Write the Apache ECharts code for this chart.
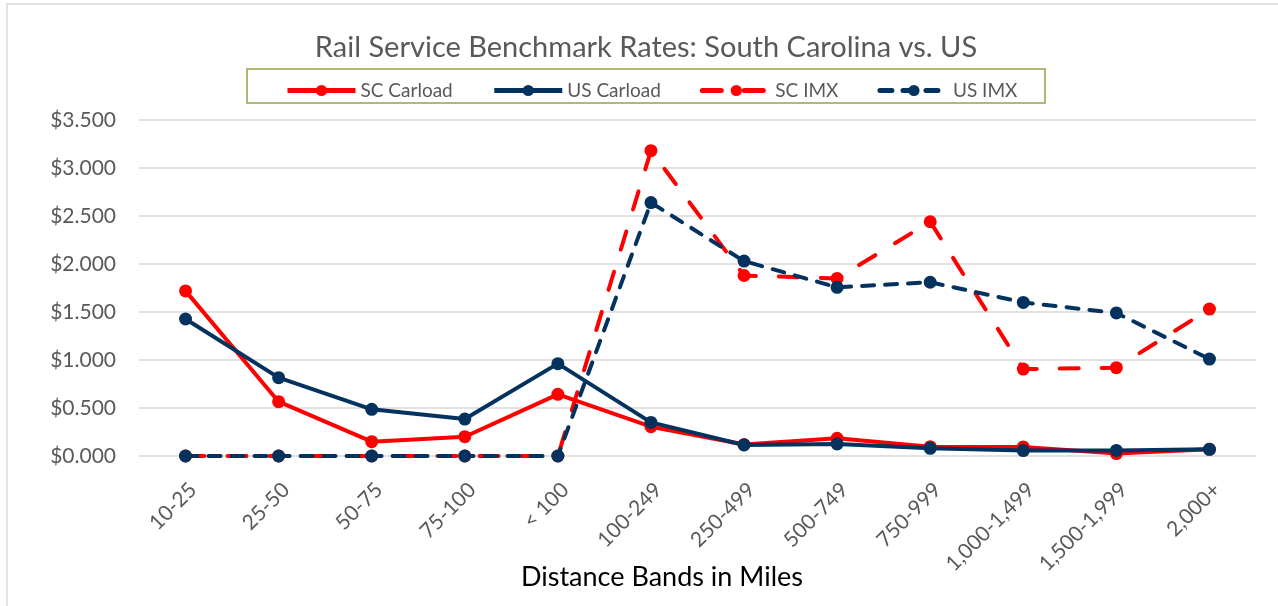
<!DOCTYPE html>
<html>
<head>
<meta charset="utf-8">
<script src="https://cdn.jsdelivr.net/npm/echarts@6/dist/echarts.min.js"></script>
<style>
  html, body { margin: 0; padding: 0; background: #fff; }
  #chart { width: 1278px; height: 606px; }
</style>
</head>
<body>
<div id="chart"></div>
<script>
const categories = ['10-25', '25-50', '50-75', '75-100', '< 100', '100-249', '250-499', '500-749', '750-999', '1,000-1,499', '1,500-1,999', '2,000+'];
const scCarload = [1.72, 0.566, 0.149, 0.201, 0.642, 0.305, 0.12, 0.184, 0.097, 0.095, 0.025, 0.07];
const usCarload = [1.427, 0.816, 0.486, 0.385, 0.962, 0.35, 0.115, 0.125, 0.08, 0.056, 0.058, 0.07];
const scIMX = [0, 0, 0, 0, 0, 3.18, 1.88, 1.85, 2.44, 0.905, 0.92, 1.53];
const usIMX = [0, 0, 0, 0, 0, 2.64, 2.03, 1.757, 1.81, 1.60, 1.49, 1.01];
const seriesNames = ['SC Carload', 'US Carload', 'SC IMX', 'US IMX'];
const yTicks = { min: 0, max: 3.5, interval: 0.5 };
const xAxisTitle = 'Distance Bands in Miles';

const RED = '#FF0000';
const NAVY = '#03325F';
const FONT = 'Lato';

const chart = echarts.init(document.getElementById('chart'));

function mk(name, data, color, dash) {
  return {
    name: name,
    type: 'line',
    data: data,
    symbol: 'circle',
    symbolSize: 13,
    showSymbol: true,
    animation: false,
    itemStyle: { color: color },
    lineStyle: { color: color, width: 4, type: dash || 'solid', cap: dash ? 'round' : 'butt' }
  };
}

chart.setOption({
  backgroundColor: '#fff',
  animation: false,
  title: {
    text: 'Rail Service Benchmark Rates: South Carolina vs. US',
    left: 641, top: 28, textAlign: 'center',
    textStyle: { fontFamily: FONT, fontSize: 29, fontWeight: 'normal', color: '#595959' }
  },
  graphic: [
    { type: 'rect', shape: { x: 7, y: 4, width: 1400, height: 800 }, style: { fill: 'none', stroke: '#D9D9D9', lineWidth: 1.5 }, silent: true },
    { type: 'rect', shape: { x: 247, y: 69, width: 798, height: 34 }, style: { fill: 'none', stroke: '#98A148', lineWidth: 1.5 }, silent: true },
    { type: 'text', x: 662, y: 577, silent: true,
      style: { text: xAxisTitle, fontFamily: FONT, fontSize: 27, fill: '#000', align: 'center', verticalAlign: 'middle' } }
  ],
  legend: {
    data: seriesNames,
    left: 280, top: 76,
    itemWidth: 68, itemHeight: 14, itemGap: 39,
    lineStyle: { width: 5 },
    textStyle: { fontFamily: FONT, fontSize: 19, color: '#595959' }
  },
  grid: { left: 139, right: 22, top: 120, bottom: 150, containLabel: false, outerBoundsMode: 'none' },
  xAxis: {
    type: 'category',
    data: categories,
    boundaryGap: true,
    axisLine: { show: false },
    axisTick: { show: false },
    axisLabel: { rotate: 45, margin: 23, verticalAlign: 'top', fontFamily: FONT, fontSize: 21, color: '#595959', interval: 0 }
  },
  yAxis: {
    type: 'value',
    min: yTicks.min, max: yTicks.max, interval: yTicks.interval,
    axisLine: { show: false },
    axisTick: { show: false },
    splitLine: { lineStyle: { color: '#D9D9D9', width: 1.5 } },
    axisLabel: { margin: 23, fontFamily: FONT, fontSize: 21, color: '#595959', formatter: v => '$' + v.toFixed(3) }
  },
  series: [
    mk(seriesNames[0], scCarload, RED),
    mk(seriesNames[1], usCarload, NAVY),
    mk(seriesNames[2], scIMX, RED, [19, 23]),
    mk(seriesNames[3], usIMX, NAVY, [12, 11])
  ]
});
</script>
</body>
</html>
